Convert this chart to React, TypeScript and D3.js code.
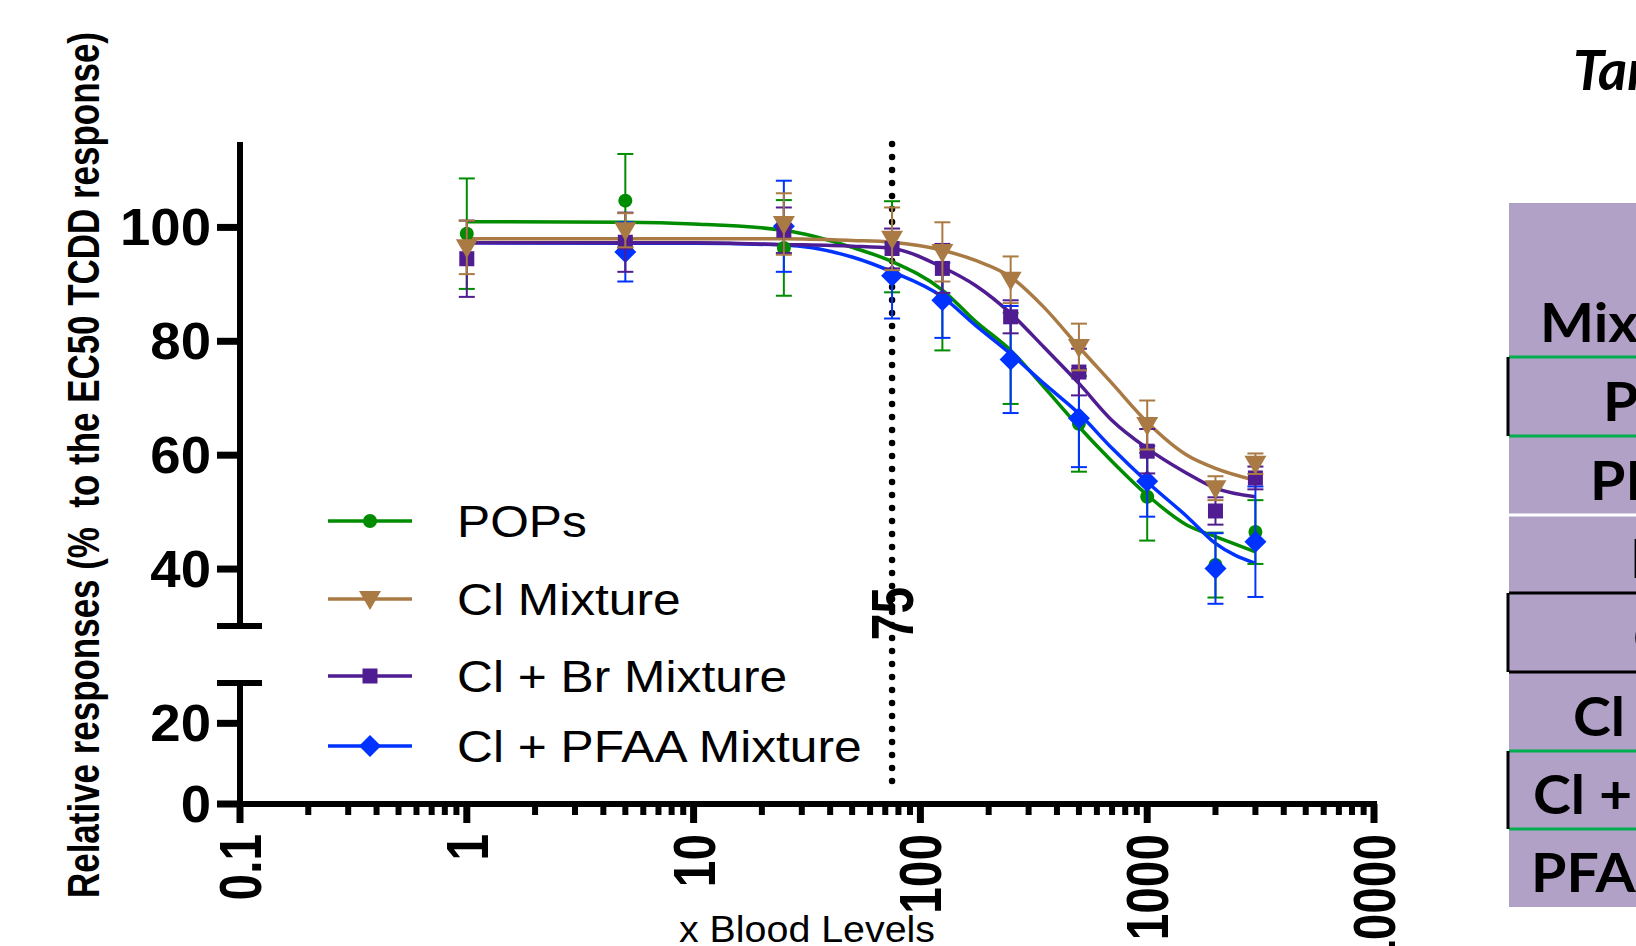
import React from 'react'
import * as d3 from 'd3'

const W = 1636
const H = 946

// doses (x Blood Levels)
const doses = [1, 5, 25, 75, 125, 250, 500, 1000, 2000, 3000]

// mean responses and error bars (null = no point shown)
const popsMean = [98.9, 104.7, 96.4, 96.6, 87.6, 77.0, 65.5, 52.7, 40.7, 46.5]
const popsErr = [9.7, 8.2, 8.4, 8.0, 9.2, 8.0, 8.4, 7.7, 5.7, 5.6]
const clMean = [96.5, 99.5, 100.6, 98.0, 95.7, 90.8, 79.0, 65.3, 54.2, 58.5]
const clErr = [4.7, 3.0, 5.4, 5.5, 5.2, 4.1, 4.1, 4.3, 2.1, 1.8]
const clBrMean = [94.5, 97.4, 99.5, 96.3, 92.8, 84.3, 74.6, 60.7, 50.2, 56.0]
const clBrErr = [6.7, 5.2, 4.0, 3.5, 4.3, 2.9, 4.1, 3.9, 2.4, 2.0]
const clPfaaMean = [null, 95.7, 100.2, 91.5, 87.2, 76.8, 66.5, 55.4, 40.1, 44.8]
const clPfaaErr = [null, 5.2, 8.0, 7.5, 6.6, 9.4, 8.6, 6.2, 6.2, 9.7]

// fitted curves, sampled off the figure
const fitDoses = [1, 5, 10, 25, 50, 75, 125, 175, 250, 350, 500, 700, 1000, 1500, 2000, 3000]
const popsFit = [101.0, 100.9, 100.6, 99.5, 96.5, 94.0, 89.0, 83.5, 78.4, 72.0, 65.0, 58.9, 53.0, 47.7, 45.7, 43.0]
const clFit = [98.0, 98.0, 98.0, 98.0, 97.7, 97.4, 96.0, 94.2, 91.3, 86.0, 79.0, 72.6, 65.8, 60.0, 57.7, 55.6]
const clBrFit = [97.3, 97.3, 97.3, 97.0, 96.7, 96.3, 93.0, 89.8, 84.9, 79.0, 72.6, 66.1, 61.2, 56.8, 54.2, 52.7]
const clPfaaFit = [97.3, 97.2, 97.2, 96.9, 94.8, 92.2, 87.8, 82.8, 77.8, 72.6, 67.3, 61.2, 55.3, 49.2, 44.5, 41.0]

const seriesNames = ['POPs', 'Cl Mixture', 'Cl + Br Mixture', 'Cl + PFAA Mixture']
const seriesColors = ['#008c00', '#a97a44', '#4f1c91', '#0033ff']
const seriesShapes = ['circle', 'triangle', 'square', 'diamond']

const xTicks = [0.1, 1, 10, 100, 1000, 10000]
const yTicksUpper = [40, 60, 80, 100]
const yTicksLower = [0, 20]
const refDose = 75

const tableTitle = 'Target'
const tableRows = ['Mixture', 'POPs', 'PFAA', 'Br', 'Cl', 'Cl + Br', 'Cl + PFAA', 'PFAA + Br']

// scales
const x = d3.scaleLog().domain([0.1, 10000]).range([240, 1374])
const yUp = d3.scaleLinear().domain([30, 115]).range([626, 142])
const yLow = d3.scaleLinear().domain([0, 30]).range([804, 683])
const y = (v: number) => (v >= 30 ? yUp(v) : yLow(v))

const FONT = '"Liberation Sans", Arial, sans-serif'

function Marker({ shape, cx, cy, color }: { shape: string; cx: number; cy: number; color: string }) {
  if (shape === 'circle') return <circle cx={cx} cy={cy} r={7} fill={color} />
  if (shape === 'square') return <rect x={cx - 7.5} y={cy - 7.5} width={15} height={15} fill={color} />
  if (shape === 'triangle')
    return <path d={`M${cx - 11},${cy - 8}L${cx + 11},${cy - 8}L${cx},${cy + 11}Z`} fill={color} />
  return <path d={`M${cx},${cy - 11}L${cx + 11},${cy}L${cx},${cy + 11}L${cx - 11},${cy}Z`} fill={color} />
}

export default function App() {
  const means = [popsMean, clMean, clBrMean, clPfaaMean]
  const errs = [popsErr, clErr, clBrErr, clPfaaErr]
  const fits = [popsFit, clFit, clBrFit, clPfaaFit]
  const drawOrder = [0, 3, 2, 1]

  const line = d3
    .line<number>()
    .x((_, i) => x(fitDoses[i]))
    .y((d) => y(d))
    .curve(d3.curveMonotoneX)

  const minor: number[] = []
  for (let e = -1; e < 4; e++) for (let m = 2; m <= 9; m++) minor.push(m * Math.pow(10, e))

  const legendY = [521, 599, 676, 746]
  const rowBounds = [203, 357, 436, 515, 593, 672, 751, 829, 907]
  const rowTextX = [1540, 1603, 1590, 1630, 1633, 1573, 1533, 1531]

  return (
    <svg width={W} height={H} style={{ position: 'absolute', left: 0, top: 0, background: '#fff' }}>
      <rect width={W} height={H} fill="#fff" />

      {/* y axis title */}
      <text
        transform="translate(99,465) rotate(-90)"
        textAnchor="middle"
        fontFamily={FONT}
        fontWeight="bold"
        fontSize={44}
        textLength={866}
        lengthAdjust="spacingAndGlyphs"
        style={{ whiteSpace: 'pre' }}
      >
        {'Relative responses (%  to the EC50 TCDD response)'}
      </text>

      {/* y axis with break */}
      <g stroke="#000" strokeLinecap="butt">
        <line x1={240} x2={240} y1={142} y2={626} strokeWidth={6} />
        <line x1={217} x2={262} y1={626} y2={626} strokeWidth={6} />
        <line x1={240} x2={240} y1={683} y2={823} strokeWidth={6} />
        <line x1={217} x2={262} y1={683} y2={683} strokeWidth={6} />
        {yTicksUpper.map((t) => (
          <line key={t} x1={217} x2={240} y1={yUp(t)} y2={yUp(t)} strokeWidth={7} />
        ))}
        {yTicksLower.map((t) => (
          <line key={t} x1={217} x2={240} y1={yLow(t)} y2={yLow(t)} strokeWidth={7} />
        ))}
      </g>
      {[...yTicksUpper.map((t) => [t, yUp(t)]), ...yTicksLower.map((t) => [t, yLow(t)])].map(([t, py]) => (
        <text
          key={t}
          transform={`translate(211,${py + 18}) scale(1.07,1)`}
          textAnchor="end"
          fontFamily={FONT}
          fontWeight="bold"
          fontSize={51}
        >
          {t}
        </text>
      ))}

      {/* x axis */}
      <g stroke="#000">
        <line x1={237} x2={1377} y1={804} y2={804} strokeWidth={6} />
        {xTicks.map((t) => (
          <line key={t} x1={x(t)} x2={x(t)} y1={804} y2={823} strokeWidth={7} />
        ))}
        {minor.map((t) => (
          <line key={t} x1={x(t)} x2={x(t)} y1={804} y2={815} strokeWidth={6} />
        ))}
      </g>
      {xTicks.map((t) => (
        <text
          key={t}
          transform={`translate(${x(t) + 21},834) rotate(-90) scale(0.81,1)`}
          textAnchor="end"
          fontFamily={FONT}
          fontWeight="bold"
          fontSize={59}
        >
          {t}
        </text>
      ))}
      <text x={679} y={942} fontFamily={FONT} fontSize={36} textLength={256} lengthAdjust="spacingAndGlyphs">
        x Blood Levels
      </text>

      {/* reference dose */}
      <line
        x1={x(refDose)}
        x2={x(refDose)}
        y1={144}
        y2={794}
        stroke="#000"
        strokeWidth={6.5}
        strokeLinecap="round"
        strokeDasharray="0 13"
      />
      <text
        transform={`translate(${x(refDose) + 21},587) rotate(-90) scale(0.81,1)`}
        textAnchor="end"
        fontFamily={FONT}
        fontWeight="bold"
        fontSize={59}
      >
        {refDose}
      </text>

      {/* fitted curves */}
      {drawOrder.map((s) => (
        <path key={s} d={line(fits[s]) || ''} fill="none" stroke={seriesColors[s]} strokeWidth={3.5} />
      ))}

      {/* error bars + points */}
      {drawOrder.map((s) => (
        <g key={s}>
          {doses.map((d, i) => {
            const m = means[s][i]
            const e = errs[s][i]
            if (m == null || e == null) return null
            const px = x(d)
            const top = y(m + e)
            const bot = y(m - e)
            return (
              <g key={i} stroke={seriesColors[s]} strokeWidth={2}>
                <line x1={px} x2={px} y1={top} y2={bot} />
                <line x1={px - 8} x2={px + 8} y1={top} y2={top} />
                <line x1={px - 8} x2={px + 8} y1={bot} y2={bot} />
              </g>
            )
          })}
          {doses.map((d, i) =>
            means[s][i] == null ? null : (
              <Marker key={i} shape={seriesShapes[s]} cx={x(d)} cy={y(means[s][i] as number)} color={seriesColors[s]} />
            )
          )}
        </g>
      ))}

      {/* legend */}
      {seriesNames.map((n, i) => (
        <g key={n}>
          <line x1={328} x2={412} y1={legendY[i]} y2={legendY[i]} stroke={seriesColors[i]} strokeWidth={3.5} />
          <Marker shape={seriesShapes[i]} cx={370} cy={legendY[i]} color={seriesColors[i]} />
          <text
            transform={`translate(457,${legendY[i] + 16}) scale(1.13,1)`}
            fontFamily={FONT}
            fontSize={44}
          >
            {n}
          </text>
        </g>
      ))}

      {/* partial table at right */}
      <text
        x={1573}
        y={90}
        fontFamily="Lato, sans-serif"
        fontWeight="bold"
        fontStyle="italic"
        fontSize={56}
      >
        {tableTitle}
      </text>
      <rect x={1509} y={203} width={W - 1509} height={907 - 203} fill="#b2a1c7" />
      <g strokeWidth={3}>
        <line x1={1509} x2={W} y1={357} y2={357} stroke="#00b050" />
        <line x1={1509} x2={W} y1={436} y2={436} stroke="#00b050" />
        <line x1={1509} x2={W} y1={515} y2={515} stroke="#fff" />
        <line x1={1509} x2={W} y1={593} y2={593} stroke="#000" />
        <line x1={1509} x2={W} y1={672} y2={672} stroke="#000" />
        <line x1={1509} x2={W} y1={751} y2={751} stroke="#00b050" />
        <line x1={1509} x2={W} y1={829} y2={829} stroke="#00b050" />
        <line x1={1508} x2={1508} y1={357} y2={436} stroke="#000" />
        <line x1={1508} x2={1508} y1={593} y2={672} stroke="#000" />
        <line x1={1508} x2={1508} y1={751} y2={829} stroke="#000" />
      </g>
      {tableRows.map((r, i) => (
        <text
          key={i}
          transform={`translate(${rowTextX[i]},${rowBounds[i + 1] - 15}) scale(1.06,1)`}
          fontFamily="Lato, sans-serif"
          fontWeight="bold"
          fontSize={54}
          style={{ whiteSpace: 'pre' }}
        >
          {r}
        </text>
      ))}
    </svg>
  )
}
